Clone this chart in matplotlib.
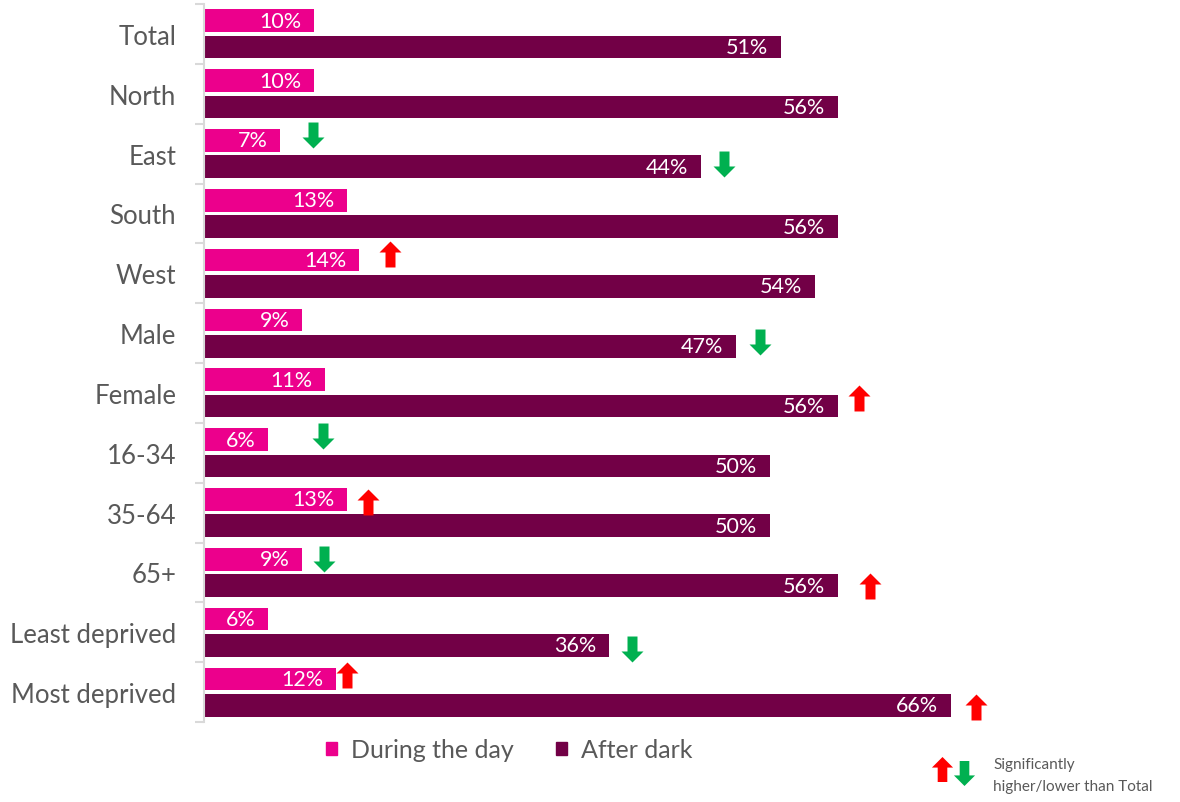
import matplotlib
matplotlib.use("Agg")
import matplotlib.pyplot as plt
from matplotlib.path import Path
from matplotlib.patches import Patch

plt.rcParams['font.family'] = ['Lato', 'DejaVu Sans']

categories = ['Total', 'North', 'East', 'South', 'West', 'Male', 'Female',
              '16-34', '35-64', '65+', 'Least deprived', 'Most deprived']
day = [9.7, 9.7, 6.7, 12.6, 13.7, 8.7, 10.7, 5.7, 12.6, 8.7, 5.7, 11.7]
dark = [51.0, 56.0, 43.9, 56.0, 54.0, 47.0, 56.0, 50.0, 50.0, 56.0, 35.8, 66.0]
series_names = ['During the day', 'After dark']

# significance arrows placed by hand: (category, series, direction, x in %, y nudge)
arrows = [
    ('East', 0, 'down', 9.6, -0.31),
    ('East', 1, 'down', 46.0, 0.18),
    ('West', 0, 'up', 16.4, -0.32),
    ('Male', 1, 'down', 49.1, 0.15),
    ('Female', 1, 'up', 57.9, 0.09),
    ('16-34', 0, 'down', 10.5, -0.28),
    ('35-64', 0, 'up', 14.5, -0.18),
    ('65+', 0, 'down', 10.6, -0.22),
    ('65+', 1, 'up', 58.9, 0.23),
    ('Least deprived', 1, 'down', 37.8, 0.28),
    ('Most deprived', 0, 'up', 12.6, -0.28),
    ('Most deprived', 1, 'up', 68.2, 0.25),
]

PINK = '#EC008C'
PLUM = '#720046'
RED = '#FF0000'
GREEN = '#00B050'
GREY = '#595959'

up_verts = [(-5, -13), (5, -13), (5, 2), (11, 2), (0, 13), (-11, 2), (-5, 2), (-5, -13)]
UP = Path(up_verts, closed=True)
DOWN = Path([(x, -y) for x, y in up_verts], closed=True)

W, H = 1180, 803
fig = plt.figure(figsize=(W / 100, H / 100), dpi=100)
ax = fig.add_axes([204 / W, 1 - 723 / H, 792 / W, 718 / H])

pos = list(range(len(categories)))
h = 0.38
ax.barh([p - 0.22 for p in pos], day, height=h, color=PINK, label=series_names[0])
ax.barh([p + 0.22 for p in pos], dark, height=h, color=PLUM, label=series_names[1])

for p, v in zip(pos, day):
    ax.annotate(f'{round(v)}%', (v, p - 0.22), xytext=(-9, 0), textcoords='offset points',
                ha='right', va='center', color='white', fontsize=15.5)
for p, v in zip(pos, dark):
    ax.annotate(f'{round(v)}%', (v, p + 0.22), xytext=(-9, 0), textcoords='offset points',
                ha='right', va='center', color='white', fontsize=15.5)

for cat, s, d, x, dy in arrows:
    i = categories.index(cat)
    ax.plot([x], [i + dy], linestyle='none', marker=UP if d == 'up' else DOWN,
            markersize=18.7, color=RED if d == 'up' else GREEN, markeredgewidth=0,
            clip_on=False)

ax.set_xlim(0, 70)
ax.set_ylim(len(categories) - 0.5, -0.5)
ax.set_xticks([])
for s in ['top', 'right', 'bottom']:
    ax.spines[s].set_visible(False)
ax.spines['left'].set_color('#D9D9D9')
ax.spines['left'].set_linewidth(1.5)

ax.set_yticks([p - 0.5 for p in pos] + [len(categories) - 0.5])
ax.set_yticklabels([])
ax.tick_params(axis='y', which='major', length=6.5, width=1.5, color='#D9D9D9')
ax.set_yticks(pos, minor=True)
ax.set_yticklabels(categories, minor=True)
ax.tick_params(axis='y', which='minor', length=0, pad=20, labelsize=18.5, labelcolor=GREY)

handles = [Patch(color=PINK), Patch(color=PLUM)]
fig.legend(handles, series_names, loc='center', bbox_to_anchor=(509 / W, 1 - 751 / H),
           ncol=2, frameon=False, fontsize=18, labelcolor=GREY,
           handlelength=0.45, handleheight=0.45, handletextpad=0.55, columnspacing=1.7)

# key for the arrows
fig.add_artist(plt.Line2D([942 / W], [1 - 770 / H], linestyle='none', marker=UP,
                          markersize=18, color=RED, markeredgewidth=0))
fig.add_artist(plt.Line2D([964 / W], [1 - 774 / H], linestyle='none', marker=DOWN,
                          markersize=18, color=GREEN, markeredgewidth=0))
fig.text(993 / W, 1 - 776 / H, 'Significantly\nhigher/lower than Total', fontsize=11,
         color=GREY, ha='left', va='center', linespacing=1.65)

fig.savefig('out.png', dpi=100)
